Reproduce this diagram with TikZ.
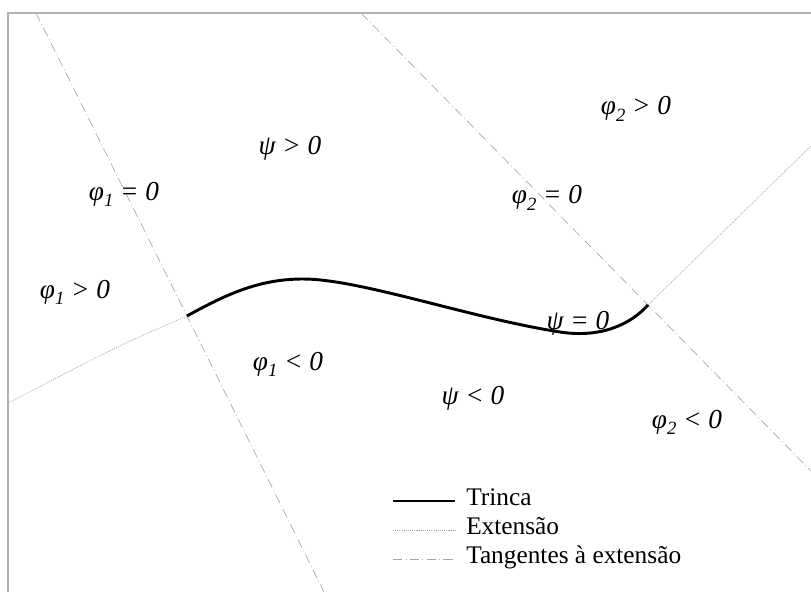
\documentclass[tikz,border=0pt]{standalone}
\usepackage{fontspec}
\setmainfont{Liberation Serif}
\usetikzlibrary{positioning}
\newcommand{\idx}[1]{\raisebox{-0.5ex}{\fontsize{14}{14}\selectfont #1}}

\begin{document}
\begin{tikzpicture}[
  x=0.75pt, y=-0.75pt,
  lbl/.style={anchor=base, inner sep=0pt, font=\fontsize{20.5}{24}\selectfont\itshape},
  legtext/.style={anchor=base west, inner sep=0pt, font=\fontsize{19}{22}\selectfont},
  trinca/.style={line width=2.2pt},
  extensao/.style={draw=gray!70, line width=0.5pt, dash pattern=on 0.8pt off 0.8pt},
  tangente/.style={draw=gray!70, line width=0.5pt, dash pattern=on 7pt off 2.5pt on 0.6pt off 2.5pt},
  moldura/.style={draw=gray!60, line width=0.8pt}
]
  \useasboundingbox (0,0) rectangle (811,592);
  % moldura
  \draw[moldura] (8,592) -- (8,13) -- (811,13);

  % pontas da trinca
  \coordinate (p1) at (187,316);
  \coordinate (p2) at (648,305);

  % tangentes
  \draw[tangente] (36,13) -- (p1) -- (324,592);
  \draw[tangente] (361,13) -- (p2) -- (811,471);
  % extensoes
  \draw[extensao] (p1) .. controls (120,345) .. (8,403);
  \draw[extensao] (p2) -- (811,146);
  % trinca
  \draw[trinca] (p1) .. controls (230,292) and (262,279) .. (303,279)
    .. controls (360,279) and (470,318) .. (560,332)
    .. controls (600,338.2) and (630,325) .. (p2);

  % regioes
  \node[lbl] (f2pos) at (636,115) {φ\idx{2} > 0};
  \node[lbl] (psipos) at (290,155) {ψ > 0};
  \node[lbl] (f1zero) at (124,200) {φ\idx{1} = 0};
  \node[lbl] (f2zero) at (547,204) {φ\idx{2} = 0};
  \node[lbl] (f1pos) at (75,298) {φ\idx{1} > 0};
  \node[lbl] (psizero) at (578,329) {ψ = 0};
  \node[lbl] (f1neg) at (288,370) {φ\idx{1} < 0};
  \node[lbl] (psineg) at (473,404) {ψ < 0};
  \node[lbl] (f2neg) at (687,428) {φ\idx{2} < 0};

  % legenda
  \node[legtext] (legtrinca) at (466,505) {Trinca};
  \node[legtext] (legext) at (466,534) {Extensão};
  \node[legtext] (legtan) at (466,563) {Tangentes à extensão};
  \draw[trinca] (393,501) -- (455,501);
  \draw[extensao] (393,530) -- (455,530);
  \draw[tangente] (393,559) -- (455,559);
\end{tikzpicture}
\end{document}
